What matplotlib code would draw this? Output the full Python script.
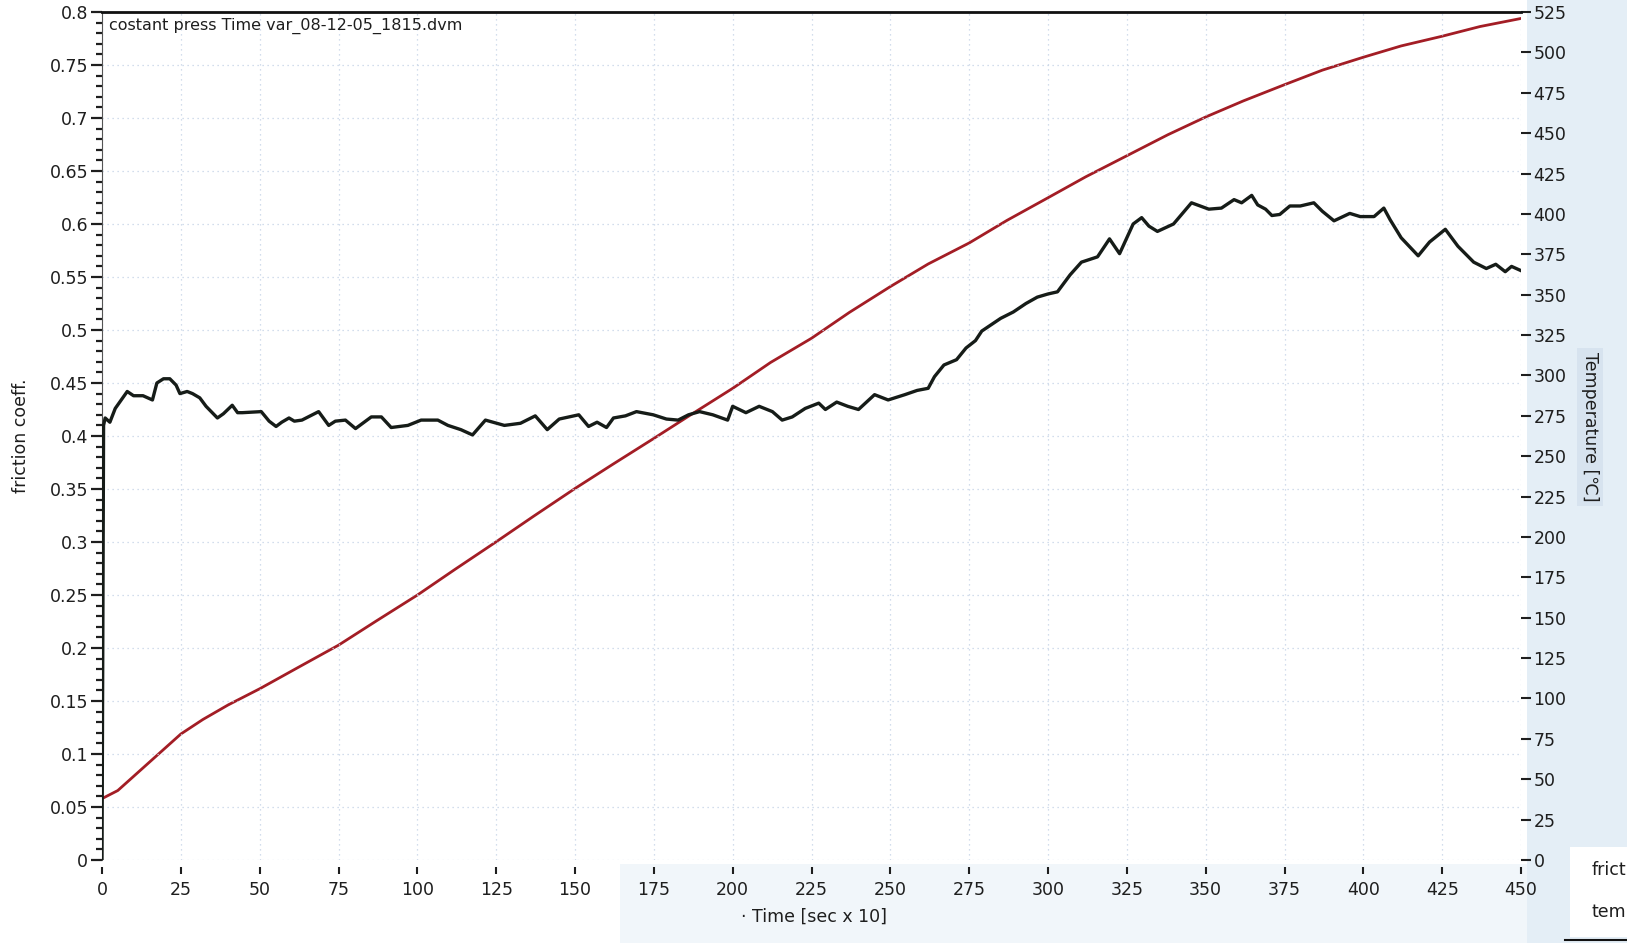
import matplotlib
matplotlib.use("Agg")
import matplotlib.pyplot as plt
from matplotlib.patches import Rectangle
from matplotlib.lines import Line2D
from matplotlib.ticker import MultipleLocator, FuncFormatter

# ---------------- data ----------------
title_text = "costant press Time var_08-12-05_1815.dvm"

time_friction = [0, 0.5, 1, 2.5, 4.2, 8, 10, 13, 16, 17.4, 19.5, 21.5, 23.5, 24.7, 27, 28.7,
                 31, 33, 36.6, 38.5, 41.3, 43, 44.5, 50.5, 53, 55.2, 57, 59.3, 61, 63.4,
                 68.7, 71.9, 74, 77.2, 80.4, 85.4, 88.6, 91.7, 97, 101.2, 106.5, 109.7,
                 113.8, 117.5, 121.6, 127.6, 132.7, 137.4, 141.2, 145, 151.2, 154.3, 157,
                 160, 162.2, 166, 169.5, 174.8, 179, 182.7, 186, 189.5, 193.7, 198.4, 200,
                 204.2, 208.4, 212.6, 215.7, 218.9, 223, 227.3, 229.4, 233, 236.5, 239.9,
                 245, 249.3, 254.6, 258.5, 262, 264, 267, 271, 274, 277, 279, 285, 289,
                 293, 296.6, 300, 303, 307, 310.6, 315.7, 319.5, 322.7, 327, 329.7, 332,
                 334.7, 339.8, 345.5, 351, 355, 359, 361.4, 364.6, 366.5, 369, 371, 373.5,
                 376.7, 380, 384.3, 387, 390.7, 395.7, 399, 403.4, 406.5, 408.5, 412,
                 417.4, 421, 426, 430, 435, 439, 442, 445, 447, 450]
friction = [0.0, 0.41, 0.417, 0.413, 0.426, 0.442, 0.438, 0.438, 0.434, 0.45, 0.454, 0.454,
            0.448, 0.44, 0.442, 0.44, 0.436, 0.428, 0.417, 0.421, 0.429, 0.422, 0.422,
            0.423, 0.414, 0.409, 0.413, 0.417, 0.414, 0.415, 0.423, 0.41, 0.414, 0.415,
            0.407, 0.418, 0.418, 0.408, 0.41, 0.415, 0.415, 0.41, 0.406, 0.401, 0.415,
            0.41, 0.412, 0.419, 0.406, 0.416, 0.42, 0.409, 0.413, 0.408, 0.417, 0.419,
            0.423, 0.42, 0.416, 0.415, 0.42, 0.423, 0.42, 0.415, 0.428, 0.422, 0.428,
            0.423, 0.415, 0.418, 0.426, 0.431, 0.425, 0.432, 0.428, 0.425, 0.439, 0.434,
            0.439, 0.443, 0.445, 0.456, 0.467, 0.472, 0.483, 0.49, 0.499, 0.511, 0.517,
            0.525, 0.531, 0.534, 0.536, 0.552, 0.564, 0.569, 0.586, 0.572, 0.6, 0.606,
            0.598, 0.593, 0.6, 0.62, 0.614, 0.615, 0.623, 0.62, 0.627, 0.618, 0.614,
            0.608, 0.609, 0.617, 0.617, 0.62, 0.612, 0.603, 0.61, 0.607, 0.607, 0.615,
            0.604, 0.587, 0.57, 0.583, 0.595, 0.579, 0.564, 0.558, 0.562, 0.555, 0.56,
            0.556]

time_temp = [0, 5, 9, 17, 25, 32, 40, 50, 62, 75, 87, 100, 112, 125, 137, 150, 162, 175,
             187, 200, 212, 225, 237, 250, 262, 275, 287, 300, 312, 325, 338, 350, 362,
             375, 387, 400, 412, 425, 437, 450]
temperature = [38, 43, 50, 64, 78, 87, 96, 106, 119, 133, 148, 164, 180, 197, 213, 230,
               245, 261, 276, 292, 308, 323, 339, 355, 369, 382, 396, 410, 423, 436, 449,
               460, 470, 480, 489, 497, 504, 510, 516, 521]

x_ticks = list(range(0, 451, 25))
temp_ticks = list(range(0, 526, 25))
legend_labels = ["frict", "tem"]

# ---------------- figure ----------------
W, H = 1627, 943
fig = plt.figure(figsize=(W / 100, H / 100), dpi=100)
fig.patch.set_facecolor("white")

def fx(px):
    return px / W

def fy(py):
    return 1 - py / H

# scanned light-blue background areas
fig.patches.append(Rectangle((fx(620), 0), 1, fy(864), transform=fig.transFigure,
                             facecolor="#f1f6fa", edgecolor="none", zorder=-5))
fig.patches.append(Rectangle((fx(1527), 0), 1, 1, transform=fig.transFigure,
                             facecolor="#e4eef6", edgecolor="none", zorder=-4))

left, right, top, bottom = 102, 1521, 12, 860
ax = fig.add_axes([fx(left), fy(bottom), fx(right - left), (bottom - top) / H])
ax2 = ax.twinx()
ax.set_zorder(2)
ax.patch.set_visible(False)
ax2.patch.set_facecolor("white")

text_color = "#1e1e1e"
fs = 12.5

# friction line
ax.plot(time_friction, friction, color="#161c18", lw=2.4, zorder=3, solid_joinstyle="round")
# temperature line
ax2.plot(time_temp, temperature, color="#a31d25", lw=2.0, zorder=3)

ax.set_xlim(0, 450)
ax.set_ylim(0, 0.8)
ax2.set_ylim(0, 525)

# grid
ax.set_xticks(x_ticks)
ax.yaxis.set_major_locator(MultipleLocator(0.05))
ax.yaxis.set_minor_locator(MultipleLocator(0.01))
ax.grid(True, which="major", color="#c4d3e6", lw=0.9, ls=(0, (1, 3)), zorder=0)

ax.yaxis.set_major_formatter(FuncFormatter(lambda v, p: "%g" % round(v, 2)))

# spines
for s in ["right", "bottom"]:
    ax.spines[s].set_visible(False)
for s in ["right", "bottom", "left", "top"]:
    ax2.spines[s].set_visible(False)
ax.spines["top"].set_linewidth(2.0)
ax.spines["top"].set_color("#111111")
ax.spines["left"].set_linewidth(0.8)
ax.spines["left"].set_color("#555555")
ax.spines["bottom"].set_position(("outward", 5))

# ticks
ax.tick_params(axis="x", direction="out", length=5, width=1.5, pad=5,
               labelsize=fs, colors=text_color, top=False)
ax.tick_params(axis="y", which="major", direction="out", length=8, width=1.6, pad=2,
               labelsize=fs, colors=text_color)
ax.tick_params(axis="y", which="minor", direction="out", length=4, width=1.6,
               colors=text_color)
ax2.set_yticks(temp_ticks)
ax2.tick_params(axis="y", direction="out", length=7, width=1.5, pad=2,
                labelsize=fs, colors=text_color)

# labels
ax.set_xlabel("\u00b7 Time [sec x 10]", fontsize=fs, color=text_color)
ax.xaxis.set_label_coords(0.502, -0.067)
ax.xaxis.label.set_verticalalignment("center")

ax.set_ylabel("friction coeff.", fontsize=fs, color=text_color)
ax.yaxis.set_label_coords(-0.057, 0.5)
ax.yaxis.label.set_verticalalignment("center")

ax2.set_ylabel("Temperature [\u2103]", fontsize=fs, color=text_color, rotation=-90,
               bbox=dict(facecolor="#d7e3ef", edgecolor="none", pad=3))
ax2.yaxis.set_label_coords(1.0486, 0.511)
ax2.yaxis.label.set_verticalalignment("center")
ax2.yaxis.label.set_horizontalalignment("center")

# title text inside the plot
ax.text(0.005, 0.993, title_text, transform=ax.transAxes, fontsize=11.5,
        color=text_color, ha="left", va="top", zorder=5)

# legend fragment at the bottom right (cut by the image edge)
fig.patches.append(Rectangle((fx(1570), fy(937)), 1, (937 - 847) / H,
                             transform=fig.transFigure, facecolor="white",
                             edgecolor="none", zorder=-3))
fig.lines.append(Line2D([fx(1565), 1], [fy(940), fy(940)], transform=fig.transFigure,
                        color="#111111", lw=1.5))
fig.text(fx(1592), fy(870), legend_labels[0], fontsize=fs, color=text_color,
         ha="left", va="center")
fig.text(fx(1592), fy(912), legend_labels[1], fontsize=fs, color=text_color,
         ha="left", va="center")

fig.savefig("out.png", dpi=100)
